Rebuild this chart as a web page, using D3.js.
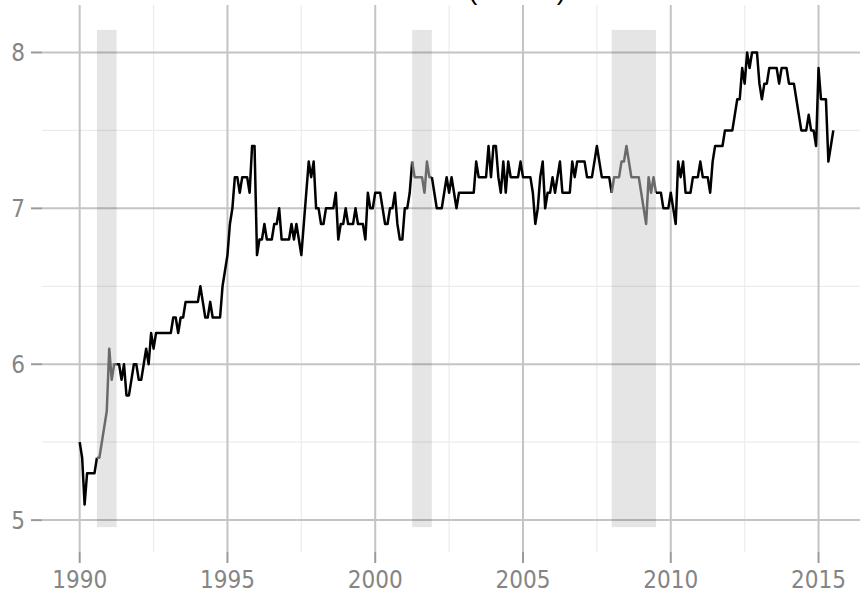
<!DOCTYPE html>
<html>
<head>
<meta charset="utf-8">
<script src="https://d3js.org/d3.v7.min.js"></script>
<style>
  html, body { margin: 0; padding: 0; background: #fff; }
  svg { display: block; }
  .tick-label { font-family: "Liberation Sans Narrow", "DejaVu Sans Condensed", "Liberation Sans", sans-serif; fill: #858585; }
</style>
</head>
<body>
<div id="chart"></div>
<script>
// Monthly series, starting January 1990
const startYear = 1990;
const monthlyValues = [
  5.5, 5.4, 5.1, 5.3, 5.3, 5.3, 5.3, 5.4, 5.4, 5.5, 5.6, 5.7, // 1990
  6.1, 5.9, 6.0, 6.0, 6.0, 5.9, 6.0, 5.8, 5.8, 5.9, 6.0, 6.0, // 1991
  5.9, 5.9, 6.0, 6.1, 6.0, 6.2, 6.1, 6.2, 6.2, 6.2, 6.2, 6.2, // 1992
  6.2, 6.2, 6.3, 6.3, 6.2, 6.3, 6.3, 6.4, 6.4, 6.4, 6.4, 6.4, // 1993
  6.4, 6.5, 6.4, 6.3, 6.3, 6.4, 6.3, 6.3, 6.3, 6.3, 6.5, 6.6, // 1994
  6.7, 6.9, 7.0, 7.2, 7.2, 7.1, 7.2, 7.2, 7.2, 7.1, 7.4, 7.4, // 1995
  6.7, 6.8, 6.8, 6.9, 6.8, 6.8, 6.8, 6.9, 6.9, 7.0, 6.8, 6.8, // 1996
  6.8, 6.8, 6.9, 6.8, 6.9, 6.8, 6.7, 6.9, 7.1, 7.3, 7.2, 7.3, // 1997
  7.0, 7.0, 6.9, 6.9, 7.0, 7.0, 7.0, 7.0, 7.1, 6.8, 6.9, 6.9, // 1998
  7.0, 6.9, 6.9, 6.9, 7.0, 6.9, 6.9, 6.9, 6.8, 7.1, 7.0, 7.0, // 1999
  7.1, 7.1, 7.1, 7.0, 6.9, 6.9, 7.0, 7.0, 7.1, 6.9, 6.8, 6.8, // 2000
  7.0, 7.0, 7.1, 7.3, 7.2, 7.2, 7.2, 7.2, 7.1, 7.3, 7.2, 7.2, // 2001
  7.1, 7.0, 7.0, 7.0, 7.1, 7.2, 7.1, 7.2, 7.1, 7.0, 7.1, 7.1, // 2002
  7.1, 7.1, 7.1, 7.1, 7.1, 7.3, 7.2, 7.2, 7.2, 7.2, 7.4, 7.2, // 2003
  7.4, 7.4, 7.2, 7.1, 7.3, 7.1, 7.3, 7.2, 7.2, 7.2, 7.2, 7.3, // 2004
  7.2, 7.2, 7.2, 7.2, 7.1, 6.9, 7.0, 7.2, 7.3, 7.0, 7.1, 7.1, // 2005
  7.2, 7.1, 7.2, 7.3, 7.1, 7.1, 7.1, 7.1, 7.3, 7.2, 7.3, 7.3, // 2006
  7.3, 7.3, 7.2, 7.2, 7.2, 7.3, 7.4, 7.3, 7.2, 7.2, 7.2, 7.2, // 2007
  7.1, 7.2, 7.2, 7.2, 7.3, 7.3, 7.4, 7.3, 7.2, 7.2, 7.2, 7.2, // 2008
  7.1, 7.0, 6.9, 7.2, 7.1, 7.2, 7.1, 7.1, 7.1, 7.0, 7.0, 7.0, // 2009
  7.1, 7.0, 6.9, 7.3, 7.2, 7.3, 7.1, 7.1, 7.1, 7.2, 7.2, 7.2, // 2010
  7.3, 7.2, 7.2, 7.2, 7.1, 7.3, 7.4, 7.4, 7.4, 7.4, 7.5, 7.5, // 2011
  7.5, 7.5, 7.6, 7.7, 7.7, 7.9, 7.8, 8.0, 7.9, 8.0, 8.0, 8.0, // 2012
  7.8, 7.7, 7.8, 7.8, 7.9, 7.9, 7.9, 7.9, 7.8, 7.9, 7.9, 7.9, // 2013
  7.8, 7.8, 7.8, 7.7, 7.6, 7.5, 7.5, 7.5, 7.6, 7.5, 7.5, 7.4, // 2014
  7.9, 7.7, 7.7, 7.7, 7.3, 7.4, 7.5                           // 2015
];

// Recessions (decimal years: first month of recession, first month after trough)
const recessionStart = [1990 + 7 / 12, 2001 + 3 / 12, 2008];
const recessionEnd = [1991 + 3 / 12, 2001 + 11 / 12, 2009 + 6 / 12];

const xTickYears = [1990, 1995, 2000, 2005, 2010, 2015];
const xMinorYears = [1992.5, 1997.5, 2002.5, 2007.5, 2012.5];
const yTicks = [5, 6, 7, 8];
const yMinor = [5.5, 6.5, 7.5];
const titleText = "Median Duration (weeks)";

const data = monthlyValues.map((v, i) => ({ t: startYear + i / 12, v: v }));
data.forEach(d => {
  d.rec = recessionStart.some((s, k) => d.t >= s - 1e-9 && d.t < recessionEnd[k] - 1e-9);
});

const width = 860, height = 596;
const margin = { top: 5, right: 0, bottom: 44, left: 42 };

// ggplot-like expansion
const vMin = d3.min(data, d => d.v), vMax = d3.max(data, d => d.v);
const bandLo = vMin - 0.05 * (vMax - vMin), bandHi = vMax + 0.05 * (vMax - vMin);
const tMin = data[0].t, tMax = data[data.length - 1].t;
const xPad = 0.05 * (tMax - tMin), yPad = 0.05 * (bandHi - bandLo);

const x = d3.scaleLinear()
  .domain([tMin - xPad, tMax + xPad])
  .range([margin.left, 871]);
const y = d3.scaleLinear()
  .domain([bandLo - yPad, bandHi + yPad])
  .range([552, margin.top]);

const svg = d3.select("#chart").append("svg")
  .attr("width", width)
  .attr("height", height);

// minor grid
svg.append("g").selectAll("line")
  .data(xMinorYears).enter().append("line")
  .attr("x1", d => x(d)).attr("x2", d => x(d))
  .attr("y1", 552).attr("y2", margin.top)
  .attr("stroke", "#ececec").attr("stroke-width", 1.2);
svg.append("g").selectAll("line")
  .data(yMinor).enter().append("line")
  .attr("x1", margin.left).attr("x2", width)
  .attr("y1", d => y(d)).attr("y2", d => y(d))
  .attr("stroke", "#ececec").attr("stroke-width", 1.2);

// major grid
svg.append("g").selectAll("line")
  .data(xTickYears).enter().append("line")
  .attr("x1", d => x(d)).attr("x2", d => x(d))
  .attr("y1", 552).attr("y2", margin.top)
  .attr("stroke", "#c4c4c4").attr("stroke-width", 2);
svg.append("g").selectAll("line")
  .data(yTicks).enter().append("line")
  .attr("x1", margin.left).attr("x2", width)
  .attr("y1", d => y(d)).attr("y2", d => y(d))
  .attr("stroke", "#c4c4c4").attr("stroke-width", 2);

// recession bands
svg.append("g").selectAll("rect")
  .data(recessionStart).enter().append("rect")
  .attr("x", d => x(d))
  .attr("width", (d, i) => x(recessionEnd[i]) - x(d))
  .attr("y", y(bandHi))
  .attr("height", y(bandLo) - y(bandHi))
  .attr("fill", "#000")
  .attr("fill-opacity", 0.1);

// line, split into runs coloured by the recession flag of each segment's first point
const line = d3.line().x(d => x(d.t)).y(d => y(d.v));
const runs = [];
let cur = null;
for (let i = 0; i < data.length - 1; i++) {
  const rec = data[i].rec;
  if (!cur || cur.rec !== rec) {
    cur = { rec: rec, pts: [data[i]] };
    runs.push(cur);
  }
  cur.pts.push(data[i + 1]);
}
svg.append("g").selectAll("path")
  .data(runs).enter().append("path")
  .attr("d", d => line(d.pts))
  .attr("fill", "none")
  .attr("stroke", d => d.rec ? "#6a6a6a" : "#000")
  .attr("stroke-width", 2.5)
  .attr("stroke-linejoin", "round");

// axis ticks
svg.append("g").selectAll("line")
  .data(yTicks).enter().append("line")
  .attr("x1", 31).attr("x2", margin.left)
  .attr("y1", d => y(d)).attr("y2", d => y(d))
  .attr("stroke", "#9a9a9a").attr("stroke-width", 2);
svg.append("g").selectAll("line")
  .data(xTickYears).enter().append("line")
  .attr("x1", d => x(d)).attr("x2", d => x(d))
  .attr("y1", 552).attr("y2", 563)
  .attr("stroke", "#9a9a9a").attr("stroke-width", 2);

// tick labels
svg.append("g").selectAll("text")
  .data(yTicks).enter().append("text")
  .attr("class", "tick-label")
  .attr("x", 25)
  .attr("y", d => y(d))
  .attr("dy", "0.35em")
  .attr("text-anchor", "end")
  .style("font-size", "24px")
  .text(d => d);
svg.append("g").selectAll("text")
  .data(xTickYears).enter().append("text")
  .attr("class", "tick-label")
  .attr("x", d => x(d))
  .attr("y", 588)
  .attr("text-anchor", "middle")
  .style("font-size", "24px")
  .text(d => d);

// title: sits above the panel, only its lowest strokes show (as in the source)
svg.append("text")
  .attr("x", 566)
  .attr("y", -1.5)
  .attr("text-anchor", "end")
  .style("font-family", "'Liberation Sans Narrow', 'Liberation Sans', sans-serif")
  .style("font-size", "28px")
  .attr("fill", "#000")
  .text(titleText);
</script>
</body>
</html>
